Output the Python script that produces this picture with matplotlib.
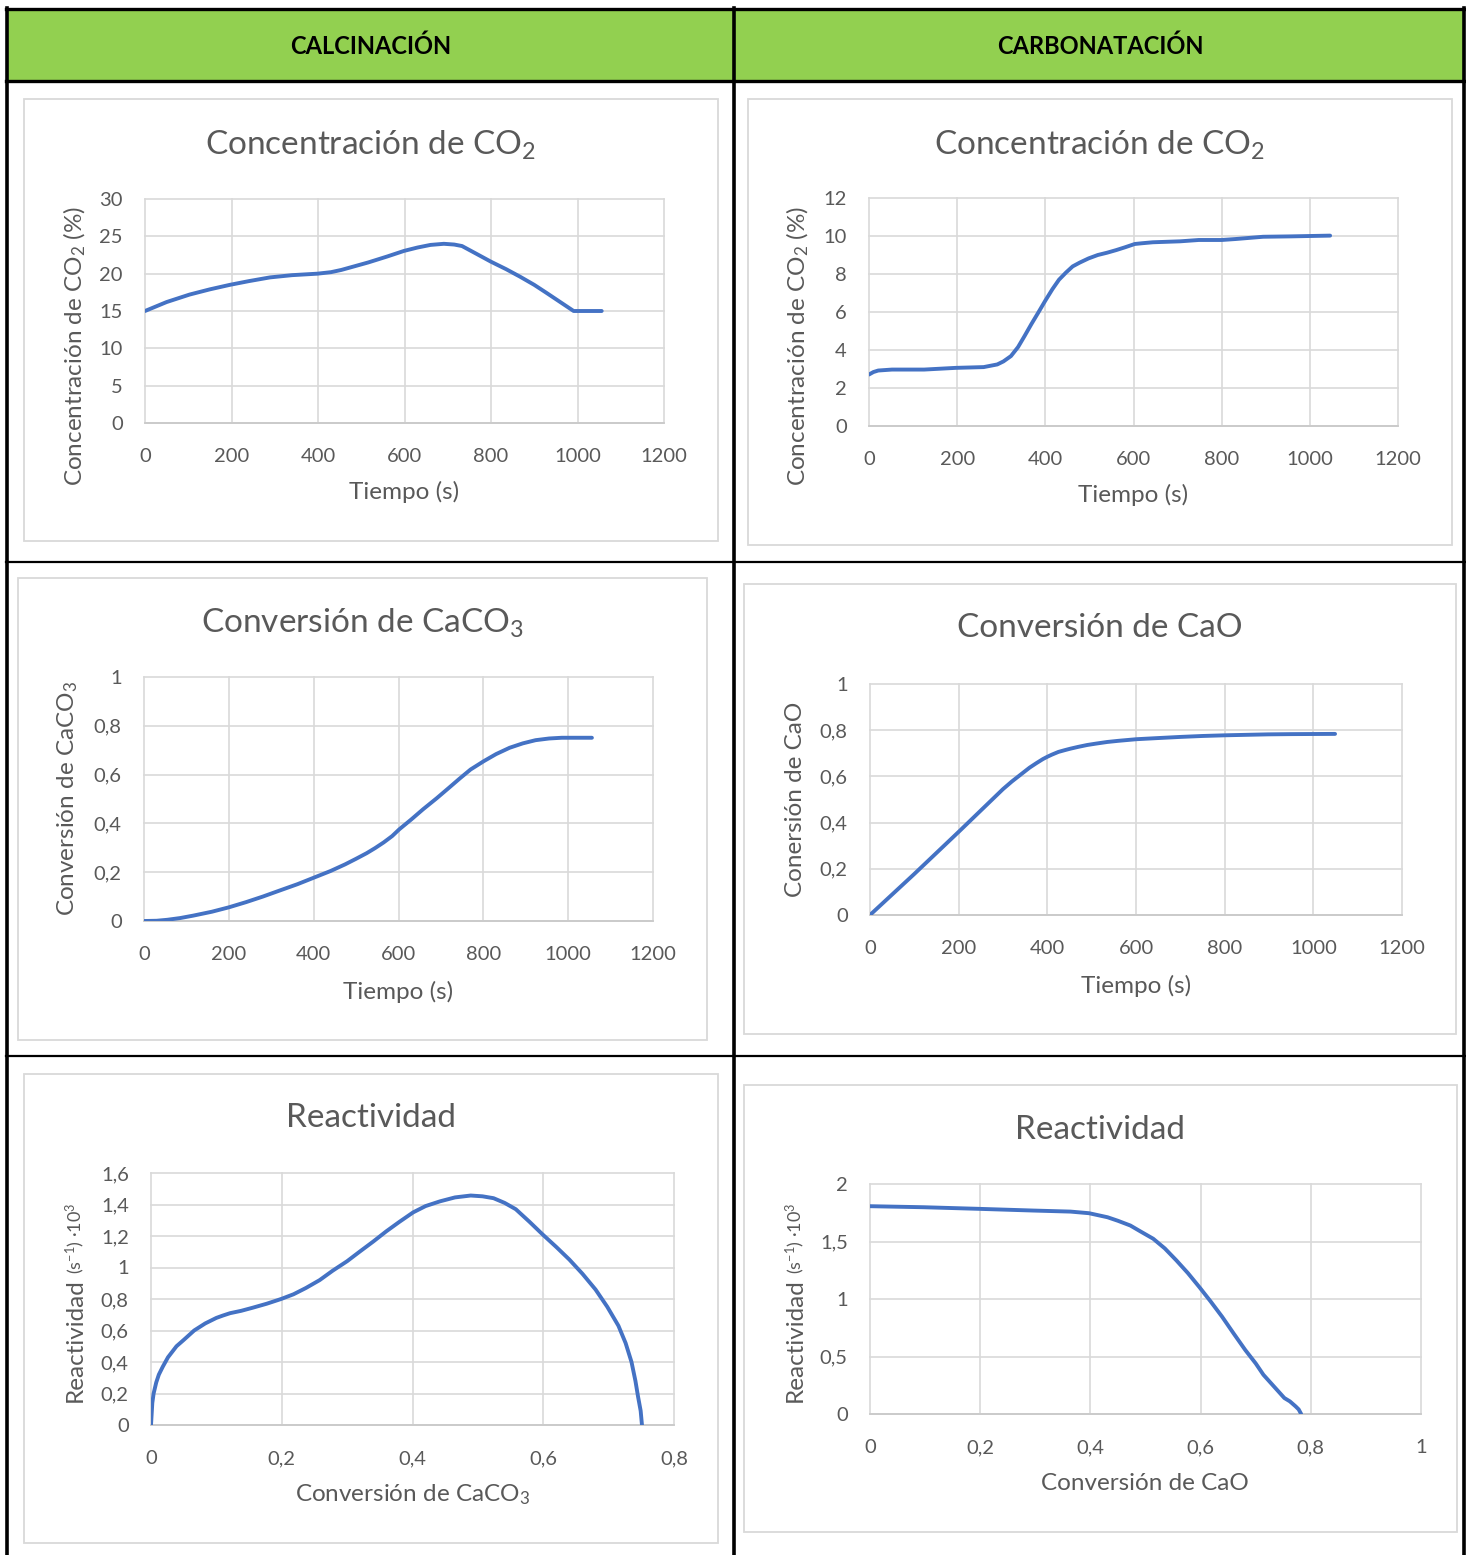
import matplotlib
matplotlib.use('Agg')
import matplotlib.pyplot as plt
from matplotlib.patches import Rectangle
from matplotlib.lines import Line2D
from matplotlib.ticker import FuncFormatter, MultipleLocator

plt.rcParams['font.family'] = ['Lato', 'DejaVu Sans']
plt.rcParams['mathtext.default'] = 'regular'

# --- datos ---
# Calcinación: concentración de CO2 (%) frente al tiempo (s)
t_calc_co2 = [0, 50, 103, 150, 196, 240, 289, 340, 399, 430, 454, 485, 516, 560, 599, 630, 660, 691, 715, 733,
              765, 800, 835, 867, 900, 929, 960, 991, 1020, 1056]
co2_calc = [15.0, 16.2, 17.2, 17.9, 18.5, 19.0, 19.5, 19.8, 20.0, 20.2, 20.5, 21.0, 21.5, 22.3, 23.05, 23.5, 23.85,
            24.0, 23.9, 23.7, 22.7, 21.6, 20.6, 19.6, 18.5, 17.4, 16.2, 15.0, 15.0, 15.0]

# Carbonatación: concentración de CO2 (%) frente al tiempo (s)
t_carb_co2 = [0, 10, 21, 52, 125, 197, 260, 291, 305, 322, 338, 353, 368, 384, 400, 416, 431, 447, 462, 478,
              498, 519, 540, 561, 580, 603, 620, 644, 706, 748, 800, 831, 894, 956, 1046]
co2_carb = [2.71, 2.84, 2.92, 2.97, 2.97, 3.06, 3.10, 3.24, 3.40, 3.68, 4.15, 4.74, 5.35, 5.97, 6.60, 7.20, 7.70,
            8.08, 8.40, 8.60, 8.82, 9.00, 9.12, 9.26, 9.40, 9.58, 9.62, 9.67, 9.72, 9.79, 9.79, 9.84, 9.96, 9.98,
            10.02]

# Calcinación: conversión de CaCO3 frente al tiempo (s)
t_calc_x = [0, 30, 55, 85, 116, 160, 200, 240, 280, 320, 362, 401, 440, 474, 500, 525, 545, 565, 585, 602, 630,
            658, 690, 719, 745, 770, 801, 830, 862, 893, 923, 955, 985, 1020, 1056]
x_caco3 = [0.0, 0.001, 0.005, 0.012, 0.022, 0.038, 0.056, 0.077, 0.100, 0.125, 0.151, 0.178, 0.205, 0.232,
           0.255, 0.278, 0.299, 0.322, 0.348, 0.376, 0.416, 0.458, 0.503, 0.546, 0.585, 0.621, 0.655, 0.684,
           0.710, 0.728, 0.741, 0.748, 0.751, 0.751, 0.751]

# Carbonatación: conversión de CaO frente al tiempo (s)
t_carb_x = [0, 99, 200, 300, 320, 348, 360, 375, 390, 400, 410, 425, 440, 452, 470, 490, 510, 535, 560, 601,
            650, 701, 750, 802, 850, 898, 950, 1049]
x_cao = [0.0, 0.176, 0.360, 0.545, 0.578, 0.620, 0.638, 0.657, 0.675, 0.685, 0.694, 0.706, 0.714, 0.720, 0.728,
         0.736, 0.742, 0.749, 0.754, 0.761, 0.766, 0.771, 0.775, 0.778, 0.780, 0.782, 0.783, 0.784]

# Calcinación: reactividad (s-1 ·10^3) frente a la conversión de CaCO3
conv_calc = [0.0, 0.001, 0.002, 0.004, 0.008, 0.012, 0.018, 0.026, 0.039, 0.050, 0.066, 0.083, 0.100, 0.110,
             0.121, 0.138, 0.155, 0.177, 0.199, 0.218, 0.237, 0.258, 0.278, 0.300, 0.319, 0.340, 0.360, 0.380,
             0.401, 0.420, 0.442, 0.465, 0.489, 0.507, 0.524, 0.541, 0.558, 0.579, 0.599, 0.620, 0.640, 0.660,
             0.680, 0.698, 0.715, 0.726, 0.735, 0.741, 0.745, 0.749, 0.751]
react_calc = [0.0, 0.07, 0.14, 0.20, 0.27, 0.32, 0.37, 0.43, 0.50, 0.54, 0.60, 0.645, 0.68, 0.695, 0.71, 0.725,
              0.744, 0.77, 0.80, 0.83, 0.87, 0.92, 0.98, 1.04, 1.10, 1.165, 1.23, 1.29, 1.35, 1.39, 1.42, 1.445,
              1.457, 1.452, 1.44, 1.41, 1.37, 1.29, 1.21, 1.13, 1.05, 0.96, 0.86, 0.75, 0.63, 0.52, 0.40, 0.28,
              0.18, 0.09, 0.0]

# Carbonatación: reactividad (s-1 ·10^3) frente a la conversión de CaO
conv_carb = [0.0, 0.0975, 0.1975, 0.2975, 0.364, 0.3975, 0.431, 0.45, 0.4725, 0.49, 0.514, 0.535, 0.556, 0.577,
             0.5975, 0.618, 0.639, 0.66, 0.681, 0.70, 0.714, 0.733, 0.752, 0.762, 0.7725, 0.778, 0.7825]
react_carb = [1.807, 1.798, 1.784, 1.769, 1.760, 1.746, 1.711, 1.68, 1.639, 1.59, 1.524, 1.44, 1.336, 1.225,
              1.105, 0.98, 0.846, 0.70, 0.557, 0.44, 0.341, 0.24, 0.139, 0.11, 0.066, 0.04, 0.0]

headers = ['CALCINACIÓN', 'CARBONATACIÓN']

W, H = 1466, 1555
GRAY_TXT = '#595959'
GRID = '#D9D9D9'
BLUE = '#4472C4'

fig = plt.figure(figsize=(W / 100, H / 100), dpi=100)


def fx(px):
    return px / W


def fy(py):
    return 1 - py / H


def hline(y, x0, x1, lw, color='black'):
    fig.add_artist(Line2D([fx(x0), fx(x1)], [fy(y), fy(y)], lw=lw, color=color, transform=fig.transFigure))


def vline(x, y0, y1, lw, color='black'):
    fig.add_artist(Line2D([fx(x), fx(x)], [fy(y0), fy(y1)], lw=lw, color=color, transform=fig.transFigure))


# cabecera verde y rejilla de la tabla
fig.add_artist(Rectangle((fx(8), fy(81)), fx(1465) - fx(8), fy(9) - fy(81), facecolor='#92D050',
                         edgecolor='none', transform=fig.transFigure, zorder=-2))
hline(9, 6, 1466, 2.4)
hline(81, 6, 1466, 2.4)
hline(562, 6, 1466, 1.6)
hline(1056, 6, 1466, 1.6)
vline(7, 8, 1555, 2.6)
vline(734, 8, 1555, 2.6)
vline(1464, 8, 1555, 2.6)
fig.text(fx(371), fy(46), headers[0], ha='center', va='center', fontsize=17, fontweight='bold', color='black')
fig.text(fx(1100), fy(46), headers[1], ha='center', va='center', fontsize=17, fontweight='bold', color='black')


def comma(v, pos):
    return '{:g}'.format(round(v, 6)).replace('.', ',')


def chart(box, area, xs, ys, xmax, xstep, ymax, ystep, title, title_xy, xlabel, xlabel_xy, ylabel, ylabel_xy):
    # marco gris del gráfico
    bl, bt, br, bb = box
    fig.add_artist(Rectangle((fx(bl), fy(bb)), fx(br) - fx(bl), fy(bt) - fy(bb), facecolor='none',
                             edgecolor=GRID, lw=1.3, transform=fig.transFigure, zorder=-1))
    l, t, r, b = area
    ax = fig.add_axes([fx(l), fy(b), (r - l) / W, (b - t) / H])
    ax.patch.set_alpha(0)
    ax.plot(xs, ys, color=BLUE, lw=2.8, solid_capstyle='round', solid_joinstyle='round', zorder=3)
    ax.set_xlim(0, xmax)
    ax.set_ylim(0, ymax)
    ax.xaxis.set_major_locator(MultipleLocator(xstep))
    ax.yaxis.set_major_locator(MultipleLocator(ystep))
    ax.xaxis.set_major_formatter(FuncFormatter(comma))
    ax.yaxis.set_major_formatter(FuncFormatter(comma))
    ax.tick_params(length=0, labelsize=14.5, labelcolor=GRAY_TXT)
    ax.tick_params(axis='x', pad=18)
    ax.tick_params(axis='y', pad=16)
    ax.grid(True, color=GRID, lw=1.2, clip_on=False)
    for side in ['top', 'right', 'left']:
        ax.spines[side].set_visible(False)
    ax.spines['bottom'].set_color('#C8C8C8')
    ax.spines['bottom'].set_linewidth(1.2)
    ax.set_axisbelow(True)
    fig.text(fx(title_xy[0]), fy(title_xy[1]), title, ha='center', va='center', fontsize=24, color=GRAY_TXT)
    fig.text(fx(xlabel_xy[0]), fy(xlabel_xy[1]), xlabel, ha='center', va='center', fontsize=17.5, color=GRAY_TXT)
    if ylabel is not None:
        fig.text(fx(ylabel_xy[0]), fy(ylabel_xy[1]), ylabel, ha='center', va='center', rotation=90,
                 fontsize=17.5, color=GRAY_TXT)
    return ax


def react_label(x, y):
    main = fig.text(fx(x), fy(y), 'Reactividad', ha='center', va='center', rotation=90, fontsize=17.5,
                    color=GRAY_TXT)
    fig.add_artist(matplotlib.text.Annotation(r'(s$^{-1}$) ·10$^{3}$', xy=(0.5, 1.0), xycoords=main,
                                              xytext=(0, 3), textcoords='offset points', rotation=90,
                                              ha='center', va='bottom', fontsize=13, color=GRAY_TXT))


chart((24, 99, 718, 541), (145, 199, 664, 423), t_calc_co2, co2_calc, 1200, 200, 30, 5,
      'Concentración de CO$_2$', (371, 145), 'Tiempo (s)', (404, 492),
      'Concentración de CO$_2$ (%)', (75, 346))
chart((748, 99, 1452, 545), (869, 198, 1398, 426), t_carb_co2, co2_carb, 1200, 200, 12, 2,
      'Concentración de CO$_2$', (1100, 145), 'Tiempo (s)', (1133, 495),
      'Concentración de CO$_2$ (%)', (798, 346))
chart((18, 578, 707, 1040), (144, 677, 653, 921), t_calc_x, x_caco3, 1200, 200, 1, 0.2,
      'Conversión de CaCO$_3$', (362, 623), 'Tiempo (s)', (398, 992),
      'Conversión de CaCO$_3$', (68, 799))
chart((744, 584, 1456, 1034), (870, 684, 1402, 915), t_carb_x, x_cao, 1200, 200, 1, 0.2,
      'Conversión de CaO', (1100, 628), 'Tiempo (s)', (1136, 986),
      'Conersión de CaO', (795, 799))
chart((24, 1074, 718, 1543), (151, 1173, 674, 1425), conv_calc, react_calc, 0.8, 0.2, 1.6, 0.2,
      'Reactividad', (371, 1118), 'Conversión de CaCO$_3$', (412, 1495), None, None)
react_label(75, 1340)
chart((744, 1085, 1457, 1532), (870, 1184, 1421, 1414), conv_carb, react_carb, 1, 0.2, 2, 0.5,
      'Reactividad', (1100, 1130), 'Conversión de CaO', (1145, 1484), None, None)
react_label(795, 1340)

fig.savefig('out.png', dpi=100, facecolor='white')
